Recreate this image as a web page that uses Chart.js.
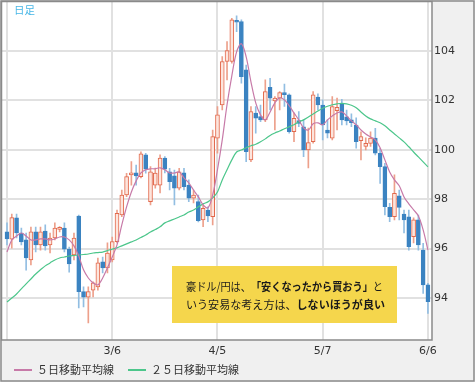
<!DOCTYPE html>
<html>
<head>
<meta charset="utf-8">
<script src="https://cdn.jsdelivr.net/npm/chart.js@4.4.0/dist/chart.umd.min.js"></script>
<style>
html, body { margin: 0; padding: 0; background: #fff; }
</style>
</head>
<body>
<canvas id="audjpy-chart" width="475" height="382"></canvas>
<script>
// daily candles, 2/4 .. 6/6
const openVals = [96.68, 96.38, 97.24, 96.63, 96.35, 95.54, 96.68, 96.15, 96.71, 96.15,
    96.43, 96.78, 96.83, 95.98, 95.74, 97.32, 94.26, 94.03, 94.32, 94.45,
    95.46, 95.22, 95.54, 96.28, 97.36, 98.17, 98.98, 99.07, 98.91, 99.79,
    97.90, 98.57, 98.57, 99.66, 99.11, 98.94, 98.44, 99.07, 98.57, 98.04,
    97.90, 97.16, 97.56, 97.29, 100.47, 101.81, 103.57, 103.57, 105.23, 105.19,
    103.23, 99.59, 101.48, 101.34, 101.21, 102.53, 101.98, 102.09, 102.29, 102.22,
    100.73, 101.18, 100.93, 99.99, 100.33, 102.13, 101.81, 100.80, 100.47, 101.58,
    101.85, 101.33, 101.21, 101.00, 100.37, 100.13, 100.26, 100.47, 99.86, 99.32,
    97.67, 97.29, 98.13, 97.40, 97.29, 96.48, 97.16, 95.94, 94.53];
const highVals = [97.04, 97.40, 97.40, 96.83, 96.63, 96.87, 96.87, 96.87, 96.96, 96.63,
    97.04, 96.89, 97.04, 96.06, 96.63, 97.36, 94.45, 94.45, 94.65, 95.62,
    95.66, 96.23, 96.47, 97.56, 98.37, 99.05, 99.52, 99.38, 99.92, 99.86,
    99.32, 99.26, 99.79, 99.72, 99.25, 99.18, 99.25, 99.25, 98.78, 98.37,
    98.17, 97.77, 97.69, 100.80, 101.75, 103.77, 104.38, 105.32, 105.42, 105.26,
    103.43, 101.75, 101.75, 101.81, 102.83, 102.89, 102.15, 102.35, 102.66, 102.26,
    101.48, 101.54, 101.21, 100.88, 102.35, 102.26, 102.02, 101.21, 102.15, 102.09,
    102.04, 101.61, 101.45, 101.29, 100.73, 100.48, 100.73, 100.87, 100.06, 99.45,
    97.83, 98.98, 98.37, 97.56, 97.56, 97.24, 97.36, 96.21, 94.59];
const lowVals = [96.15, 96.02, 96.43, 96.15, 95.13, 95.34, 95.86, 95.94, 95.94, 95.82,
    96.35, 96.67, 95.86, 95.05, 95.54, 93.60, 93.64, 92.99, 94.04, 94.32,
    95.01, 95.01, 95.46, 96.23, 97.29, 98.10, 98.57, 98.57, 98.86, 99.05,
    97.77, 98.45, 98.25, 99.06, 98.37, 97.77, 98.37, 98.37, 97.90, 97.85,
    97.08, 96.89, 97.09, 96.96, 99.86, 101.61, 102.83, 103.50, 104.78, 102.69,
    99.52, 99.52, 100.67, 101.14, 101.14, 101.61, 100.80, 101.61, 101.75, 100.67,
    100.33, 100.93, 99.72, 99.26, 100.27, 101.61, 100.40, 100.48, 100.40, 100.80,
    101.00, 101.00, 100.93, 100.06, 99.59, 99.99, 100.13, 99.79, 98.64, 97.36,
    97.09, 97.16, 97.16, 96.63, 95.94, 96.23, 95.94, 94.19, 93.38];
const closeVals = [96.39, 97.25, 96.63, 96.27, 95.62, 96.68, 96.15, 96.68, 96.11, 96.43,
    96.83, 96.85, 95.98, 95.38, 96.43, 94.26, 94.03, 94.26, 94.61, 95.42,
    95.22, 95.82, 96.28, 97.43, 98.17, 98.91, 99.07, 98.94, 99.83, 99.21,
    99.11, 99.06, 99.66, 99.21, 98.71, 98.44, 99.11, 98.51, 98.04, 98.17,
    97.13, 97.63, 97.32, 100.53, 101.41, 103.57, 104.01, 105.26, 105.16, 102.96,
    99.92, 101.54, 101.28, 101.21, 102.35, 102.09, 102.09, 102.31, 102.23, 100.73,
    101.27, 101.07, 99.99, 100.29, 102.22, 101.81, 101.00, 100.67, 101.75, 101.72,
    101.21, 101.17, 101.10, 100.33, 100.53, 100.26, 100.47, 99.86, 99.32, 97.70,
    97.29, 98.24, 97.67, 97.16, 96.08, 97.16, 96.15, 94.53, 93.85];
const ma5 = [95.86, 96.35, 96.51, 96.63, 96.51, 96.35, 96.35, 96.39, 96.39, 96.35,
    96.39, 96.47, 96.47, 96.35, 96.11, 95.70, 95.14, 94.81, 94.61, 94.53,
    94.81, 95.22, 95.66, 96.15, 96.96, 97.69, 98.29, 98.74, 99.06, 99.19,
    99.23, 99.23, 99.27, 99.19, 99.06, 99.06, 99.10, 98.86, 98.66, 98.37,
    98.09, 97.77, 97.65, 98.17, 99.19, 100.40, 101.82, 102.99, 103.96, 104.29,
    103.76, 102.75, 101.90, 101.41, 101.21, 101.53, 101.90, 102.10, 102.02, 101.78,
    101.49, 101.21, 100.89, 100.80, 101.05, 101.09, 101.01, 101.21, 101.37, 101.49,
    101.53, 101.37, 101.17, 101.01, 100.80, 100.64, 100.52, 100.40, 100.08, 99.59,
    99.10, 98.78, 98.54, 98.09, 97.81, 97.57, 97.32, 96.76, 95.94];
const ma25 = [93.84, 94.00, 94.16, 94.37, 94.57, 94.77, 94.97, 95.14, 95.30, 95.42,
    95.54, 95.62, 95.66, 95.70, 95.72, 95.74, 95.76, 95.78, 95.82, 95.84,
    95.86, 95.92, 95.98, 96.03, 96.11, 96.19, 96.27, 96.35, 96.45, 96.55,
    96.67, 96.77, 96.88, 97.04, 97.12, 97.20, 97.28, 97.36, 97.48, 97.56,
    97.69, 97.81, 97.89, 98.05, 98.29, 98.78, 99.19, 99.59, 99.91, 99.99,
    100.08, 100.16, 100.22, 100.32, 100.44, 100.58, 100.68, 100.76, 100.85, 100.93,
    101.01, 101.13, 101.21, 101.33, 101.45, 101.57, 101.68, 101.76, 101.82, 101.86,
    101.88, 101.86, 101.80, 101.70, 101.53, 101.37, 101.25, 101.17, 101.09, 100.97,
    100.80, 100.64, 100.48, 100.32, 100.12, 99.91, 99.71, 99.51, 99.31];

const tickIndex = [0, 22, 44, 66, 88];
const tickLabels = ['', '3/6', '4/5', '5/7', '6/6'];
const priceTicks = [94, 96, 98, 100, 102, 104];
const seriesNames = ['５日移動平均線', '２５日移動平均線'];
const noteLines = [
    [['豪ドル/円は、', false], ['「安くなったから買おう」', true], ['と', false]],
    [['いう安易な考え方は、', false], ['しないほうが良い', true]]
];

const upLine = '#e2694c';
const upFill = '#fde5dd';
const upWick = '#eda08b';
const downBody = '#3b83c1';
const downWick = '#92bee2';
const jpFont = '"Noto Sans CJK JP", sans-serif';

const idx = closeVals.map((c, i) => i);
const isUp = idx.map(i => closeVals[i] >= openVals[i]);

const drawRich = (ctx, parts, x, y, w, size) => {
    const fontOf = (b) => (b ? 'bold ' : '') + size + 'px ' + jpFont;
    let total = 0;
    parts.forEach(p => { ctx.font = fontOf(p[1]); total += ctx.measureText(p[0]).width; });
    ctx.save();
    ctx.translate(x, y);
    ctx.scale(Math.min(1, w / total), 1);
    let cx = 0;
    parts.forEach(p => {
        ctx.font = fontOf(p[1]);
        ctx.fillText(p[0], cx, 0);
        cx += ctx.measureText(p[0]).width;
    });
    ctx.restore();
};

const framePlugin = {
    id: 'frame',
    beforeDraw: (chart) => {
        const c = chart.ctx, a = chart.chartArea;
        c.save();
        c.fillStyle = '#ffffff';
        c.fillRect(0, 0, chart.width, chart.height);
        c.fillStyle = '#f0f0f0';
        c.fillRect(a.right, 0, chart.width - a.right, chart.height);
        c.fillRect(0, a.bottom, chart.width, chart.height - a.bottom);
        c.restore();
    },
    afterDatasetsDraw: (chart) => {
        const c = chart.ctx;
        c.save();
        c.fillStyle = '#f5d64c';
        c.fillRect(172, 266, 225, 57);
        c.fillStyle = '#1a1a1a';
        c.textBaseline = 'middle';
        drawRich(c, noteLines[0], 186, 287, 197, 11.5);
        drawRich(c, noteLines[1], 186, 305, 199, 11.5);
        c.fillStyle = '#46b6e6';
        c.font = '10.5px ' + jpFont;
        c.fillText('日足', 14, 10);
        c.restore();
    },
    afterDraw: (chart) => {
        const c = chart.ctx, a = chart.chartArea;
        c.save();
        c.strokeStyle = '#8a8a8a';
        c.lineWidth = 1.5;
        c.strokeRect(1, 1, chart.width - 2, chart.height - 2);
        c.strokeRect(a.left, a.top, a.right - a.left, a.bottom - a.top);
        // legend
        const items = chart.data.datasets.filter(d => d.type === 'line');
        const xs = [14, 128];
        c.font = '11px ' + jpFont;
        c.fillStyle = '#333333';
        c.textBaseline = 'middle';
        items.forEach((d, k) => {
            c.strokeStyle = d.borderColor;
            c.lineWidth = 2;
            c.beginPath();
            c.moveTo(xs[k], 370);
            c.lineTo(xs[k] + 18, 370);
            c.stroke();
            c.fillText(d.label, xs[k] + 23, 370);
        });
        c.restore();
    }
};

const renderChart = () => {
    var ctx = document.getElementById('audjpy-chart').getContext('2d');
    new Chart(ctx, {
        type: 'bar',
        data: {
            datasets: [
                {
                    type: 'line',
                    label: seriesNames[0],
                    data: idx.map(i => ({ x: i, y: ma5[i] })),
                    borderColor: '#c77aa8',
                    borderWidth: 1.2,
                    pointRadius: 0,
                    tension: 0.35,
                    order: 0
                },
                {
                    type: 'line',
                    label: seriesNames[1],
                    data: idx.map(i => ({ x: i, y: ma25[i] })),
                    borderColor: '#4cc68b',
                    borderWidth: 1.2,
                    pointRadius: 0,
                    tension: 0.35,
                    order: 0
                },
                {
                    label: 'body',
                    data: idx.map(i => ({ x: i, y: [openVals[i], closeVals[i]] })),
                    backgroundColor: idx.map(i => isUp[i] ? upFill : downBody),
                    borderColor: idx.map(i => isUp[i] ? upLine : downBody),
                    borderWidth: 1,
                    borderSkipped: false,
                    barThickness: 4,
                    minBarLength: 2,
                    grouped: false,
                    order: 1
                },
                {
                    label: 'wick',
                    data: idx.map(i => ({ x: i, y: [lowVals[i], highVals[i]] })),
                    backgroundColor: idx.map(i => isUp[i] ? upWick : downWick),
                    borderWidth: 0,
                    barThickness: 1,
                    grouped: false,
                    order: 2
                }
            ]
        },
        options: {
            responsive: false,
            animation: false,
            devicePixelRatio: 1,
            layout: { padding: { left: 1.5, top: 1.5, right: 0, bottom: 0 } },
            plugins: {
                legend: { display: false },
                tooltip: { enabled: false }
            },
            scales: {
                x: {
                    type: 'linear',
                    offset: false,
                    min: -1.15,
                    max: 88.85,
                    afterBuildTicks: (s) => { s.ticks = tickIndex.map(v => ({ value: v })); },
                    afterFit: (s) => { s.height = 42; s.paddingLeft = 0; s.paddingRight = 0; },
                    ticks: {
                        callback: (v, i) => tickLabels[i],
                        autoSkip: false,
                        maxRotation: 0,
                        padding: 5,
                        color: '#333333',
                        font: { family: 'DejaVu Sans', size: 11 }
                    },
                    grid: { offset: false, color: '#e1e1e1', lineWidth: 2, drawTicks: false },
                    border: { display: false }
                },
                y: {
                    position: 'right',
                    min: 92.3,
                    max: 106.0,
                    afterBuildTicks: (s) => { s.ticks = priceTicks.map(v => ({ value: v })); },
                    afterFit: (s) => { s.width = 43; s.paddingTop = 0; s.paddingBottom = 0; },
                    ticks: {
                        padding: 2,
                        color: '#333333',
                        font: { family: 'DejaVu Sans', size: 11 }
                    },
                    grid: { color: '#e1e1e1', lineWidth: 2, drawTicks: false },
                    border: { display: false }
                }
            }
        },
        plugins: [framePlugin]
    });
};
renderChart();
</script>
</body>
</html>
